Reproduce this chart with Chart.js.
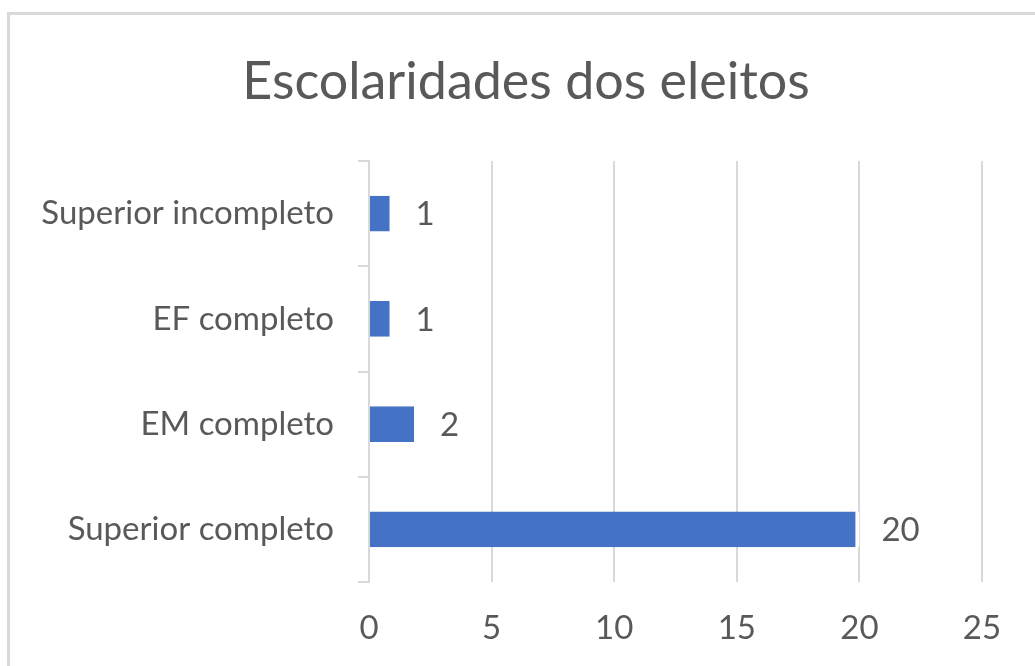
<!DOCTYPE html>
<html>
<head>
<meta charset="utf-8">
<script src="https://cdn.jsdelivr.net/npm/chart.js@4.4.1/dist/chart.umd.min.js"></script>
<style>
  html, body { margin: 0; padding: 0; background: #fff; overflow: hidden; }
  #wrap { position: relative; width: 1035px; height: 666px; }
  #frame { position: absolute; left: 7px; top: 12px; width: 1100px; height: 700px; border: 3px solid #d9d9d9; box-sizing: border-box; }
  canvas { position: absolute; left: 0; top: 0; }
</style>
</head>
<body>
<div id="wrap">
  <div id="frame"></div>
  <canvas id="chart" width="1035" height="666"></canvas>
</div>
<script>
// Escolaridades dos eleitos
const chartTitle = 'Escolaridades dos eleitos';
const categories = ['Superior incompleto', 'EF completo', 'EM completo', 'Superior completo'];
const values = [1, 1, 2, 20];
const xTicks = [0, 5, 10, 15, 20, 25];

const FONT = 'Lato, "Open Sans", sans-serif';
const TEXT = '#595959';
const GRID = '#d9d9d9';

// title centred on the whole frame, not on the plot
const frameTitle = {
  id: 'frameTitle',
  afterDraw(chart) {
    const ctx = chart.ctx;
    ctx.save();
    ctx.font = '52px ' + FONT;
    ctx.fillStyle = TEXT;
    ctx.textAlign = 'center';
    ctx.textBaseline = 'middle';
    ctx.fillText(chartTitle, 526, 82);
    ctx.restore();
  }
};

// value labels to the right of each bar, with a white box that hides the gridline
const barLabels = {
  id: 'barLabels',
  afterDatasetsDraw(chart) {
    const ctx = chart.ctx;
    const meta = chart.getDatasetMeta(0);
    ctx.save();
    ctx.font = '33px ' + FONT;
    ctx.textBaseline = 'middle';
    meta.data.forEach((bar, i) => {
      const text = String(values[i]);
      const w = ctx.measureText(text).width;
      const x = bar.x + 22;
      ctx.fillStyle = '#fff';
      ctx.fillRect(bar.x + 2, bar.y - 24, w + 30, 48);
      ctx.fillStyle = TEXT;
      ctx.fillText(text, x, bar.y + 1);
    });
    ctx.restore();
  }
};

new Chart(document.getElementById('chart'), {
  type: 'bar',
  data: {
    labels: categories,
    datasets: [{
      data: values,
      backgroundColor: '#4472C4',
      borderColor: '#fff',
      borderWidth: { top: 0, right: 4, bottom: 0, left: 0 },
      borderSkipped: 'start',
      categoryPercentage: 1,
      barPercentage: 0.34
    }]
  },
  options: {
    indexAxis: 'y',
    responsive: false,
    animation: false,
    layout: { padding: { left: 0, right: 53, top: 161, bottom: 0 } },
    plugins: {
      legend: { display: false },
      tooltip: { enabled: false },
      title: { display: false }
    },
    scales: {
      x: {
        min: 0,
        max: 25,
        afterBuildTicks: s => { s.ticks = xTicks.map(v => ({ value: v })); },
        grid: { color: GRID, lineWidth: 2, drawTicks: false },
        border: { display: false },
        ticks: { color: TEXT, font: { family: FONT, size: 33 }, padding: 27 },
        afterFit: s => { s.height = 84; }
      },
      y: {
        grid: { color: GRID, lineWidth: 2, drawOnChartArea: false, tickLength: 11, offset: true },
        border: { display: true, color: GRID, width: 2 },
        ticks: { color: TEXT, font: { family: FONT, size: 33 }, padding: 24 },
        afterFit: s => { s.width = 369; }
      }
    }
  },
  plugins: [barLabels, frameTitle]
});
</script>
</body>
</html>
